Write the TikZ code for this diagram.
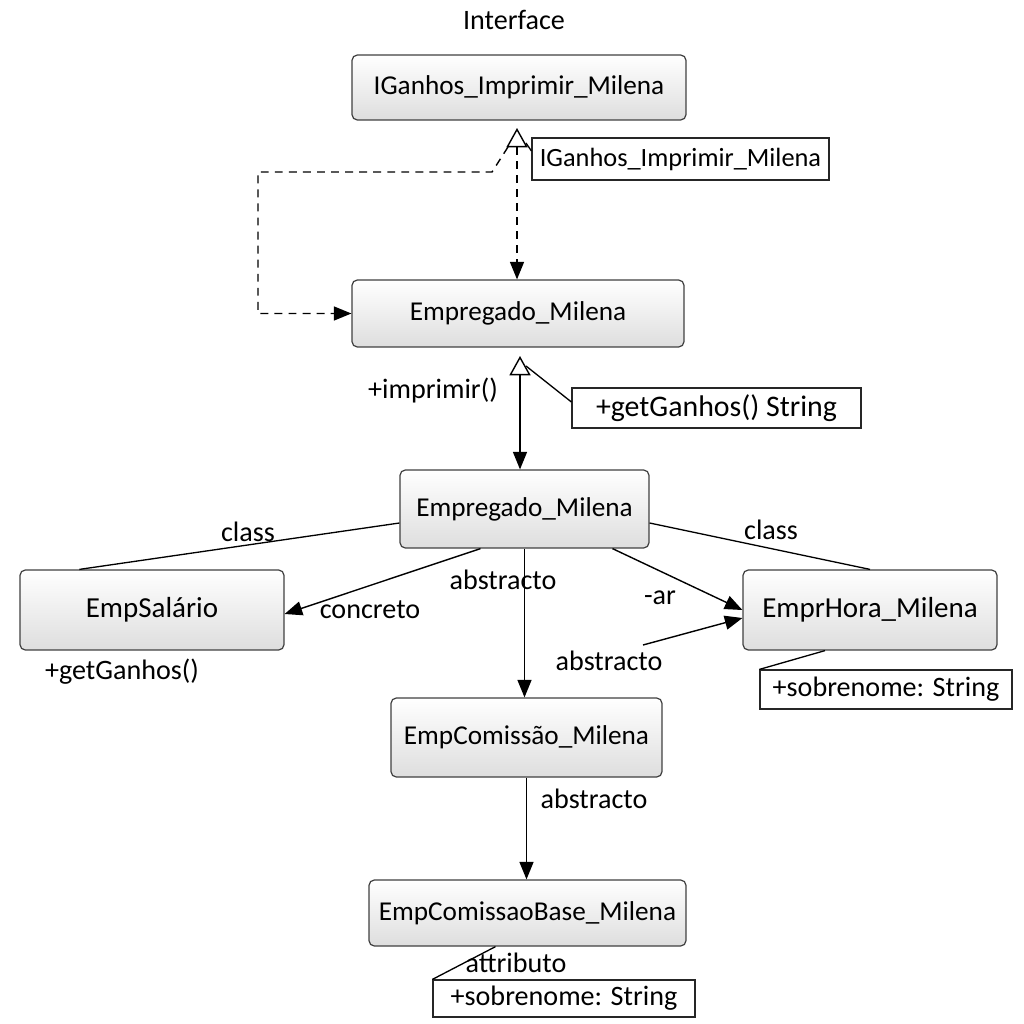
\documentclass[tikz,border=0pt]{standalone}
\usepackage{fontspec}
\setmainfont{Carlito}
\usetikzlibrary{arrows.meta,positioning,calc}

\begin{document}
\begin{tikzpicture}[
  x=0.02cm,y=-0.02cm,
  cls/.style={rectangle,draw=black!75,rounded corners=3pt,top color=white,
              bottom color=black!13,font=\fontsize{15.5}{18}\selectfont,
              line width=0.7pt},
  note/.style={rectangle,draw=black!85,fill=white,
               font=\fontsize{16}{19}\selectfont,inner sep=2pt,line width=0.7pt},
  lbl/.style={font=\fontsize{16}{19}\selectfont},
  arr/.style={-{Triangle[length=10pt,width=8pt]},line width=0.8pt},
  gen/.style={{Triangle[open,length=11pt,width=12pt]}-{Triangle[length=10pt,width=8pt]},
              line width=0.8pt},
  dsh/.style={dash pattern=on 4.5pt off 3.5pt},
  link/.style={line width=0.75pt}
]
  \useasboundingbox (0,0) rectangle (1024,1024);

  % classes
  \node[lbl](iface) at (514,20){Interface};
  \node[cls,minimum width=6.68cm,minimum height=1.3cm](igan) at (519,87.5){IGanhos\_Imprimir\_Milena};
  \node[cls,minimum width=6.64cm,minimum height=1.34cm](emp) at (518,313.5){Empregado\_Milena};
  \node[cls,minimum width=4.98cm,minimum height=1.56cm](abs) at (524.5,509){Empregado\_Milena};
  \node[cls,minimum width=5.28cm,minimum height=1.6cm,font=\fontsize{16.5}{19}\selectfont](sal) at (152,610){EmpSalário};
  \node[cls,minimum width=5.08cm,minimum height=1.6cm,font=\fontsize{16.5}{19}\selectfont](hora) at (870,610){EmprHora\_Milena};
  \node[cls,minimum width=5.42cm,minimum height=1.58cm](com) at (526.5,737.5){EmpComissão\_Milena};
  \node[cls,minimum width=6.34cm,minimum height=1.32cm](base) at (527.5,913){EmpComissaoBase\_Milena};

  % notes
  \node[note,minimum width=5.94cm,minimum height=0.84cm,font=\fontsize{15}{18}\selectfont](n1) at (680.5,159){IGanhos\_Imprimir\_Milena};
  \node[note,minimum width=5.78cm,minimum height=0.8cm,font=\fontsize{17}{20}\selectfont](n2) at (716.5,408){+getGanhos() String};
  \node[note,minimum width=5.04cm,minimum height=0.78cm](n3) at (886,689.5){+sobrenome: String};
  \node[note,minimum width=5.24cm,minimum height=0.74cm](n4) at (564,998.5){+sobrenome: String};

  % labels
  \node[lbl](imp) at (433,390){+imprimir()};
  \node[lbl](clsl) at (248,532){class};
  \node[lbl](clsr) at (771,530){class};
  \node[lbl](conc) at (370,610){concreto};
  \node[lbl](abs1) at (503,580){abstracto};
  \node[lbl](ar) at (660,598){-ar};
  \node[lbl](abs2) at (609,661){abstracto};
  \node[lbl](getg) at (122,672){+getGanhos()};
  \node[lbl](abs3) at (594,799){abstracto};
  \node[lbl](attr) at (516,963){attributo};

  % connectors
  \coordinate (g1) at (517,128);
  \coordinate (g1l) at (508,147);
  \coordinate (g2) at (520,356);
  \coordinate (a3) at (643,645);
  \draw[gen,dsh](g1)--(g1 |- emp.north);
  \draw[arr,dsh](g1l)--(492,172)--(258,172)|-(emp.west);
  \draw[link](526,143)--($(n1.west)+(0,-8)$);
  \draw[gen](g2)--(g2 |- abs.north);
  \draw[link](526,366)--($(n2.west)+(0,-6)$);
  \draw[link]($(abs.west)+(0,14)$)--($(sal.north west)+(60,0)$);
  \draw[link]($(abs.east)+(0,14)$)--(hora.north);
  \draw[arr]($(abs.south)+(-44,0)$)--($(sal.east)+(0,4)$);
  \draw[arr](abs.south)--(abs.south |- com.north);
  \draw[arr]($(abs.south)+(88,0)$)--(hora.west);
  \draw[arr](a3)--($(hora.west)+(0,8)$);
  \draw[link]($(hora.south)+(-45,0)$)--(n3.north west);
  \draw[arr](com.south)--(com.south |- base.north);
  \draw[link]($(base.south)+(-32,0)$)--(n4.north west);
\end{tikzpicture}
\end{document}
